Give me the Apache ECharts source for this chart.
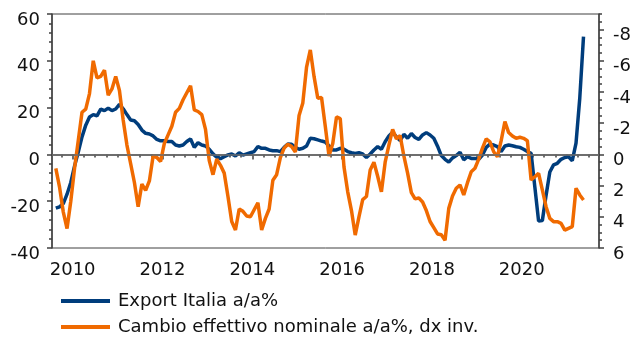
<!DOCTYPE html>
<html>
<head>
<meta charset="utf-8">
<script src="https://cdn.jsdelivr.net/npm/echarts@6/dist/echarts.min.js"></script>
<style>
  html, body { margin: 0; padding: 0; background: #ffffff; }
  #chart { width: 635px; height: 339px; }
</style>
</head>
<body>
<div id="chart"></div>
<script>
// Monthly observations, first one is August 2009
const startYear = 2009;
const startMonth = 8;

// Export Italia, a/a% (left axis)
const exportItalia = [
  -23, -22.4, -21, -17, -12, -5, 1, 7.5, 12.5, 16,
  17, 16.5, 19.3, 18.7, 19.8, 18.7, 19.4, 21.4, 19.5, 17,
  14.7, 14.4, 12.8, 10.4, 9, 8.7, 7.9, 6.4, 5.8, 5.8,
  5.5, 5.5, 4, 3.6, 4, 5.5, 6.6, 3.0, 5, 4,
  3.6, 2.2, 0.2, -1.2, -1.8, -1.0, -0.2, 0.2, -0.7, 0.7,
  -0.3, 0.2, 0.7, 1.2, 3.4, 2.6, 2.6, 1.9, 1.6, 1.6,
  1.2, 3.0, 4.4, 4.3, 3.0, 2.2, 2.6, 3.6, 6.9, 6.7,
  6.2, 5.7, 5.3, 3.6, 1.9, 1.9, 2.6, 2.2, 1.2, 0.7,
  0.4, 0.7, 0.2, -1.3, 0.2, 1.9, 3.3, 2.2, 5.4, 7.9,
  9.5, 7.5, 5.9, 8.6, 6.9, 8.9, 7.2, 6.4, 8.3, 9.3,
  8.3, 6.9, 3.5, -0.5, -2.1, -3.3, -1.5, -0.5, 0.9, -2.3,
  -1, -1.7, -1.7, -2.1, -0.3, 3.0, 4.4, 4.0, 3.3, 1.2,
  3.6, 4.0, 3.7, 3.3, 3.0, 2.2, 1.2, 0.5, -14, -28.5,
  -28.3, -17.5, -7.5, -4.5, -3.8, -2.1, -1.3, -1.0, -2.7, 4.8,
  24, 50.3
];

// Cambio effettivo nominale, a/a% (right axis, inverted)
const cambioEffettivo = [
  0.9, 2.1, 3.7, 4.75, 3.0, 0.9, -0.9, -2.7, -2.9, -3.9,
  -6.0, -4.9, -5.0, -5.4, -3.8, -4.2, -5.0, -4.1, -2.2, -0.6,
  0.6, 1.8, 3.35, 1.9, 2.3, 1.7, 0.1, 0.2, 0.45, -0.7,
  -1.25, -1.8, -2.7, -2.95, -3.5, -3.95, -4.4, -2.85, -2.75, -2.55,
  -1.6, 0.4, 1.3, 0.3, 0.7, 1.2, 2.7, 4.3, 4.85, 3.5,
  3.65, 3.95, 4.0, 3.55, 3.1, 4.85, 4.1, 3.5, 1.65, 1.3,
  0.2, -0.4, -0.65, -0.5, -0.15, -2.5, -3.3, -5.6, -6.7, -5.0,
  -3.6, -3.65, -1.8, 0.1, -0.7, -2.4, -2.3, 0.8, 2.4, 3.6,
  5.17, 4.0, 2.9, 2.7, 1.0, 0.5, 1.4, 2.4, 0.5, -0.6,
  -1.6, -1.0, -1.2, 0.1, 1.2, 2.45, 2.85, 2.8, 3.05, 3.6,
  4.3, 4.7, 5.1, 5.15, 5.5, 3.46, 2.67, 2.17, 1.96, 2.6,
  1.81, 1.11, 0.89, 0.3, -0.4, -1.0, -0.81, -0.17, 0.15, -0.88,
  -2.1, -1.4, -1.18, -1.03, -1.1, -1.03, -0.88, 1.64, 1.43, 1.21,
  2.28, 3.35, 4.1, 4.31, 4.31, 4.42, 4.85, 4.74, 4.63, 2.17,
  2.6, 2.92
];

const yearLabels = [2010, 2012, 2014, 2016, 2018, 2020];
const rightTicks = [-8, -6, -4, -2, 0, 2, 4, 6];

const seriesNames = ['Export Italia a/a%', 'Cambio effettivo nominale a/a%, dx inv.'];

// time position of the k-th month (middle of the month, in fractional years)
function monthPos(k) {
  return startYear + (startMonth - 1 + k + 0.5) / 12;
}
const toPairs = arr => arr.map((v, k) => [monthPos(k), v]);

const X_MIN = 2009.54, X_MAX = 2021.72;
const quarterTicks = [];
for (let t = 2009.75; t < X_MAX; t += 0.25) quarterTicks.push(+t.toFixed(2));
const rightMinor = [];
for (let v = -9; v <= 6; v += 0.5) rightMinor.push(v);

const AXIS = '#404040';
const TXT = '#111111';
const FONT = '"DejaVu Sans", Verdana, sans-serif';
const FS = 18;

// y-axis labels sit a little below their tick
const yLabel = { fontSize: FS, color: TXT, fontFamily: FONT, verticalAlign: 'top', lineHeight: 12 };

const chart = echarts.init(document.getElementById('chart'), null, { renderer: 'canvas' });
chart.setOption({
  animation: false,
  backgroundColor: '#ffffff',
  textStyle: { fontFamily: FONT },
  grid: {
    left: 52, right: 36, top: 14, bottom: 91,
    show: true, borderColor: AXIS, borderWidth: 1, backgroundColor: 'transparent'
  },
  legend: {
    data: seriesNames,
    orient: 'vertical',
    left: 61, top: 290, height: 80, padding: 0,
    icon: 'rect', itemWidth: 49, itemHeight: 4, itemGap: 4,
    textStyle: { fontSize: FS, lineHeight: 22, color: TXT, fontFamily: FONT, padding: [0, 0, 0, 3] }
  },
  xAxis: [
    {
      type: 'value', min: X_MIN, max: X_MAX,
      axisLine: { show: true, lineStyle: { color: AXIS, width: 1.5 } },
      axisTick: { show: true, customValues: yearLabels, length: 5, lineStyle: { color: AXIS, width: 1.5 } },
      axisLabel: { customValues: yearLabels, margin: 13, fontSize: FS, color: TXT, fontFamily: FONT,
                   formatter: v => String(Math.round(v)) },
      splitLine: { show: false }
    },
    {
      type: 'value', min: X_MIN, max: X_MAX, position: 'bottom',
      axisLine: { show: false },
      axisTick: { show: true, customValues: quarterTicks, length: 3, lineStyle: { color: AXIS, width: 1.5 } },
      axisLabel: { show: false },
      splitLine: { show: false }
    }
  ],
  yAxis: [
    {
      type: 'value', position: 'left', min: -40, max: 60, interval: 20,
      axisLine: { show: true, lineStyle: { color: AXIS, width: 1.5 } },
      axisTick: { show: true, length: 5, lineStyle: { color: AXIS, width: 1.5 } },
      minorTick: { show: true, splitNumber: 5, length: 3, lineStyle: { color: AXIS, width: 1.5 } },
      axisLabel: Object.assign({ margin: 12 }, yLabel),
      splitLine: { show: false }
    },
    {
      type: 'value', position: 'right', inverse: true, min: -9, max: 6,
      axisLine: { show: true, lineStyle: { color: AXIS, width: 1.5 } },
      axisTick: { show: true, customValues: rightTicks, length: 5, lineStyle: { color: AXIS, width: 1.5 } },
      axisLabel: Object.assign({ customValues: rightTicks, margin: 14 }, yLabel),
      splitLine: { show: false }
    },
    {
      type: 'value', position: 'right', inverse: true, min: -9, max: 6,
      axisLine: { show: false },
      axisTick: { show: true, customValues: rightMinor, length: 3, lineStyle: { color: AXIS, width: 1.5 } },
      axisLabel: { show: false },
      splitLine: { show: false }
    }
  ],
  series: [
    {
      name: seriesNames[0], type: 'line', xAxisIndex: 0, yAxisIndex: 0,
      data: toPairs(exportItalia),
      showSymbol: false, symbol: 'none',
      lineStyle: { color: '#003d7c', width: 3.5 },
      itemStyle: { color: '#003d7c' },
      markLine: {
        silent: true, symbol: ['none', 'none'], label: { show: false },
        lineStyle: { color: '#6e6e6e', width: 1.5, type: 'solid' },
        data: [{ yAxis: 0 }]
      },
      z: 2
    },
    {
      name: seriesNames[1], type: 'line', xAxisIndex: 0, yAxisIndex: 1,
      data: toPairs(cambioEffettivo),
      showSymbol: false, symbol: 'none',
      lineStyle: { color: '#f06a00', width: 3.5 },
      itemStyle: { color: '#f06a00' },
      z: 3
    }
  ]
});
</script>
</body>
</html>
